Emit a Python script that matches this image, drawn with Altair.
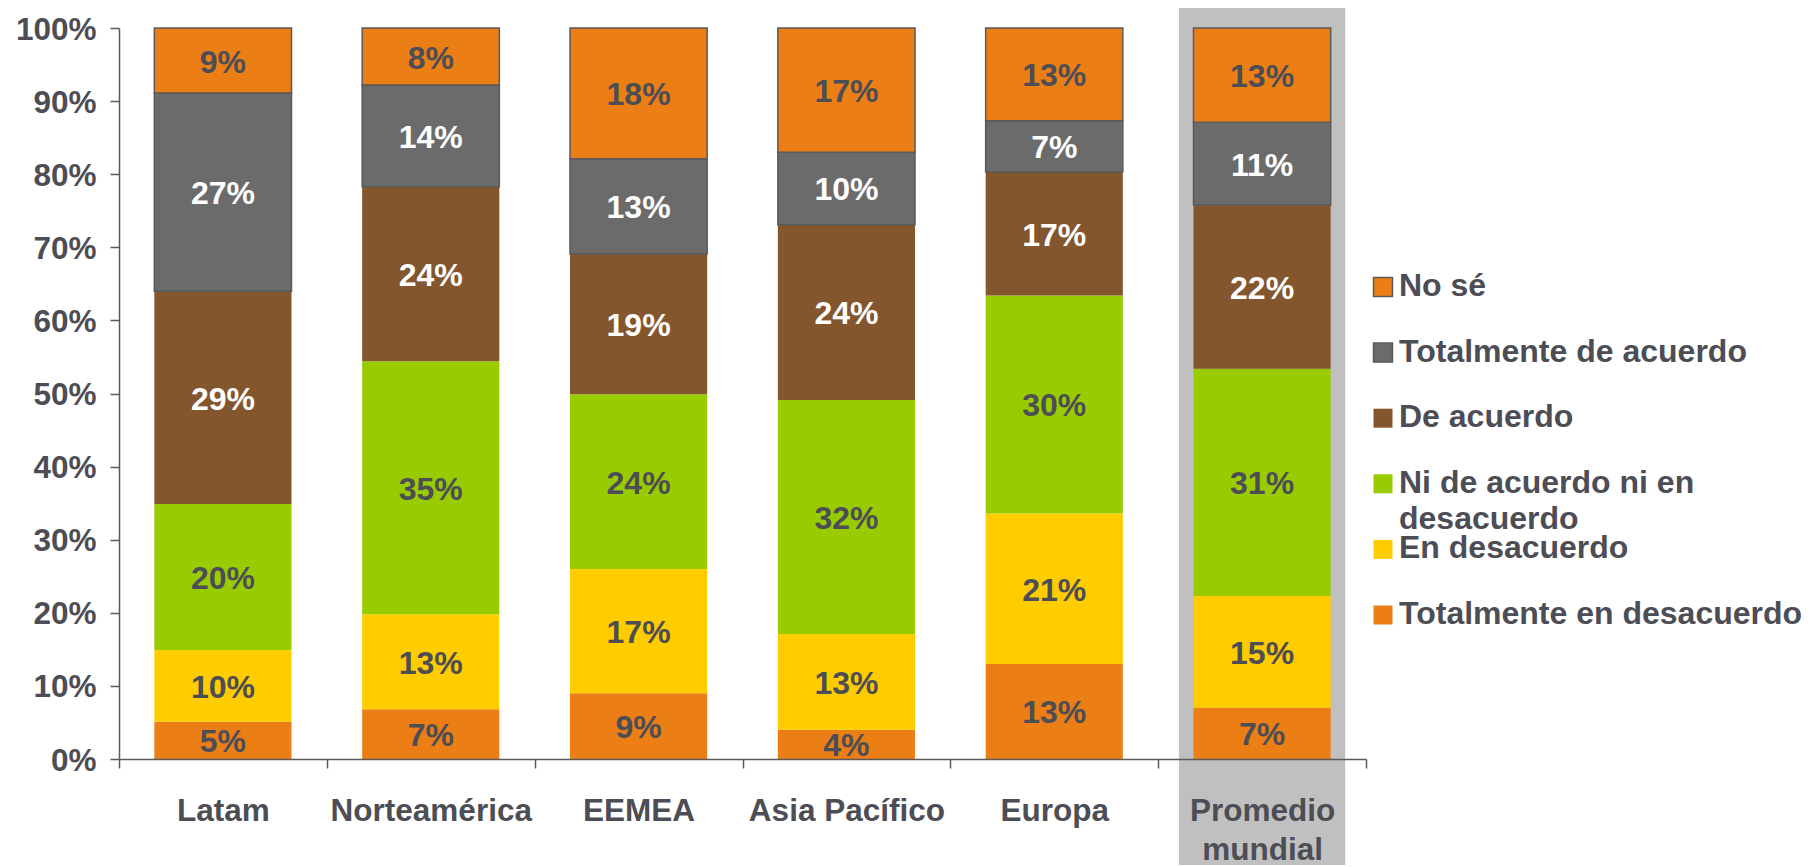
import altair as alt
import pandas as pd

regions = ['Latam', 'Norteamérica', 'EEMEA', 'Asia Pacífico', 'Europa', 'Promedio mundial']
# stacking order, bottom to top
categories = ['Totalmente en desacuerdo', 'En desacuerdo', 'Ni de acuerdo ni en desacuerdo',
              'De acuerdo', 'Totalmente de acuerdo', 'No sé']

tot_desacuerdo = [5.1, 6.8, 9.0, 4.0, 13.0, 7.0]
en_desacuerdo = [9.8, 13.0, 17.0, 13.1, 20.6, 15.3]
ni_ni = [20.0, 34.6, 23.9, 32.0, 29.8, 31.1]
de_acuerdo = [29.1, 23.9, 19.2, 24.0, 16.9, 22.4]
tot_acuerdo = [27.1, 13.9, 13.0, 9.9, 7.0, 11.3]
no_se = [8.9, 7.8, 17.9, 17.0, 12.7, 12.9]

series = [tot_desacuerdo, en_desacuerdo, ni_ni, de_acuerdo, tot_acuerdo, no_se]
colors = ['#EB7F16', '#FFCC00', '#99CC00', '#84562E', '#6B6B6B', '#EB7F16']

highlight = ['Promedio mundial']

rows = []
for ci, (cat, vals) in enumerate(zip(categories, series)):
    for r, v in zip(regions, vals):
        rows.append({'region': r, 'cat': cat, 'ord': ci, 'value': v})
df = pd.DataFrame(rows)

legend_order = list(reversed(categories))
leg = pd.DataFrame({'cat': legend_order, 'li': list(range(len(legend_order)))})
leg['label'] = leg['cat'].str.replace('ni en desacuerdo', 'ni en\ndesacuerdo', regex=False)

hl = pd.DataFrame({'region': highlight})

FONT = 'Liberation Sans'
TXT = '#4D4D55'
AX = '#5A5A5A'

color_scale = alt.Scale(domain=categories, range=colors)
x_scale = alt.Scale(domain=regions, paddingInner=0, paddingOuter=0)
y_scale = alt.Scale(domain=[0, 100], nice=False)

x_axis = alt.Axis(title=None, labelAngle=0, tickBand='extent', tickSize=9, labelPadding=27,
                  labelFontSize=31.5, labelFont=FONT, labelFontWeight='bold', labelColor=TXT,
                  domainColor=AX, tickColor=AX, domainWidth=1.5, tickWidth=1.5,
                  labelLineHeight=39, labelLimit=500, zindex=1,
                  labelExpr="datum.label == 'Promedio mundial' ? ['Promedio', 'mundial'] : datum.label")
y_axis = alt.Axis(title=None, values=list(range(0, 101, 10)), tickSize=9, labelPadding=14,
                  labelFontSize=31.5, labelFont=FONT, labelFontWeight='bold', labelColor=TXT,
                  domainColor=AX, tickColor=AX, domainWidth=1.5, tickWidth=1.5, grid=False,
                  labelOffset=2, labelExpr="datum.value + '%'", zindex=1)

hl_layer = alt.Chart(hl).mark_bar(color='#C0C0C0', width=alt.RelativeBandSize(0.8)).encode(
    x=alt.X('region:N', scale=x_scale, axis=x_axis),
    y=alt.value(-24),
    y2=alt.value(860),
)

base = alt.Chart(df).transform_stack(
    stack='value', groupby=['region'], sort=[alt.SortField('ord', order='ascending')],
    as_=['v0', 'v1']
).transform_calculate(
    mid='(datum.v0 + datum.v1) / 2',
    lab="round(datum.value) + '%'"
)

stroke_cond = "datum.cat == 'No sé' || datum.cat == 'Totalmente de acuerdo'"

bars = base.mark_bar(width=alt.RelativeBandSize(0.66), strokeWidth=1.5).encode(
    x=alt.X('region:N', scale=x_scale, axis=x_axis),
    y=alt.Y('v0:Q', scale=y_scale, axis=y_axis),
    y2='v1:Q',
    color=alt.Color('cat:N', scale=color_scale, legend=None),
    stroke=alt.condition(stroke_cond, alt.value(AX), alt.value('transparent')),
)

texts = base.mark_text(font=FONT, fontSize=32, fontWeight='bold', baseline='middle', dy=2).encode(
    x=alt.X('region:N', scale=x_scale, axis=x_axis),
    y=alt.Y('mid:Q', scale=y_scale, axis=None),
    text='lab:N',
    color=alt.condition("datum.cat == 'De acuerdo' || datum.cat == 'Totalmente de acuerdo'",
                        alt.value('white'), alt.value(TXT)),
)

leg_y = alt.Y('li:Q', scale=alt.Scale(domain=[0, 5], range=[259, 587]), axis=None)

leg_sq = alt.Chart(leg).mark_square(size=361, opacity=1, strokeWidth=1.5).encode(
    x=alt.value(1264),
    y=leg_y,
    color=alt.Color('cat:N', scale=color_scale, legend=None),
    stroke=alt.condition(stroke_cond, alt.value(AX), alt.value('transparent')),
)

leg_txt = alt.Chart(leg).mark_text(font=FONT, fontSize=32, fontWeight='bold', align='left',
                                   baseline='top', dy=-16, lineBreak='\n', lineHeight=36,
                                   color=TXT).encode(
    x=alt.value(1280),
    y=leg_y,
    text='label:N',
)

chart = alt.layer(hl_layer, bars, texts, leg_sq, leg_txt).resolve_scale(
    y='independent'
).properties(
    width=1247, height=731,
    autosize=alt.AutoSizeParams(type='none'),
    padding={'left': 111, 'top': 20, 'right': 444, 'bottom': 106},
).configure_view(strokeWidth=0)

chart.save('out.html', embed_options={'renderer': 'svg', 'actions': False})
